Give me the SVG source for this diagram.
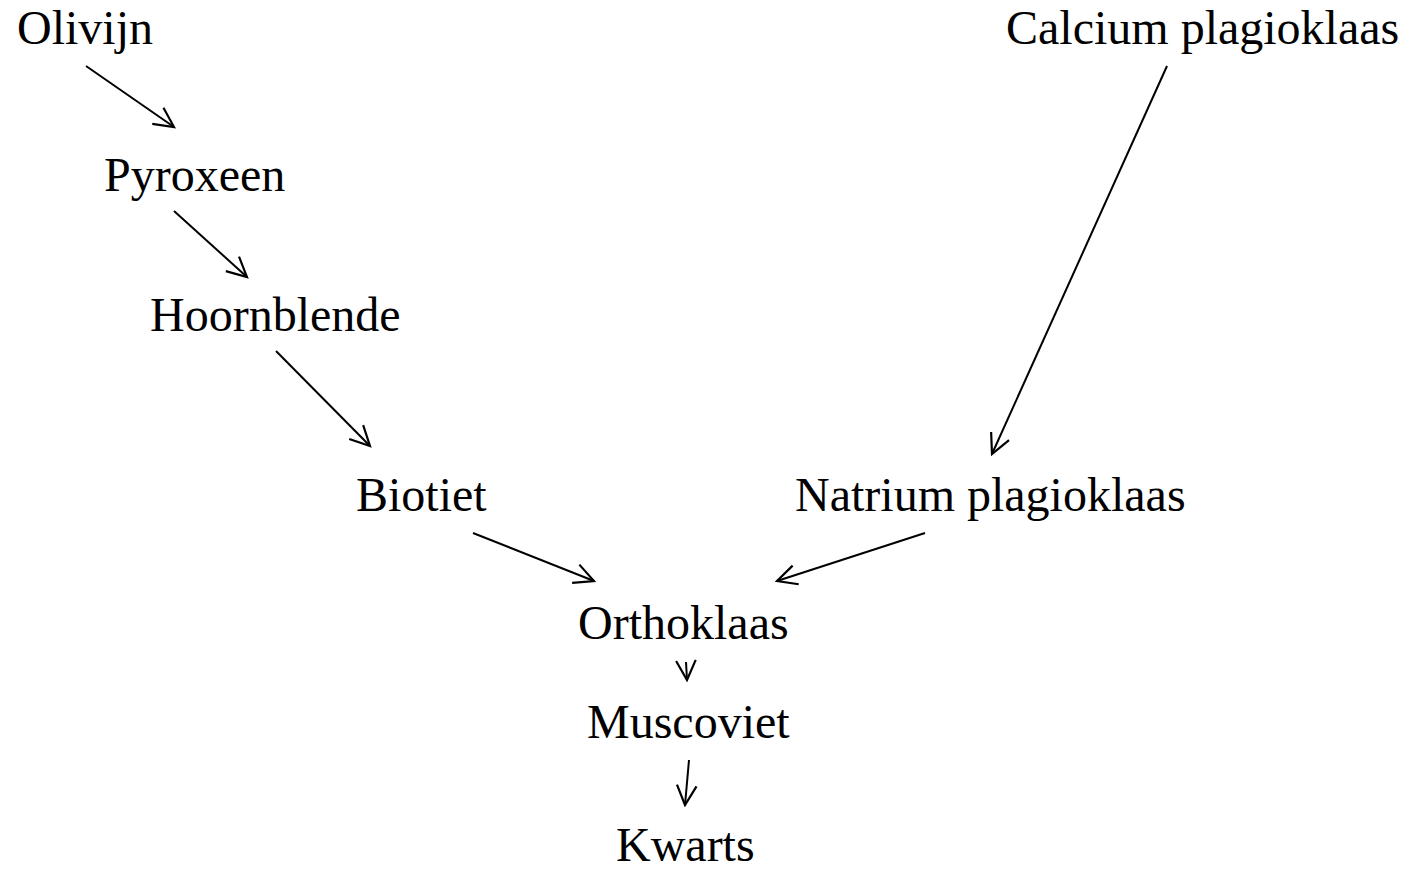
<svg xmlns="http://www.w3.org/2000/svg" width="1409" height="872" viewBox="0 0 1409 872">
<style>
text{font-family:"Liberation Serif","Times New Roman",serif;font-size:48px;fill:#000}
.c line{stroke:#000;stroke-width:2;fill:none;marker-end:url(#a)}
</style>
<defs>
<marker id="a" markerUnits="userSpaceOnUse" markerWidth="24" markerHeight="24" viewBox="-20 -10 22 20" refX="0" refY="0" orient="auto">
<path d="M-18,-9 L0,0 L-18,9" fill="none" stroke="#000" stroke-width="2"/>
</marker>
</defs>
<rect width="1409" height="872" fill="#fff"/>
<g id="olivijn"><text x="17" y="44">Olivijn</text></g>
<g id="calcium"><text x="1006" y="44">Calcium plagioklaas</text></g>
<g id="pyroxeen"><text x="104" y="191">Pyroxeen</text></g>
<g id="hoornblende"><text x="150" y="331">Hoornblende</text></g>
<g id="biotiet"><text x="356" y="511">Biotiet</text></g>
<g id="natrium"><text x="795" y="511">Natrium plagioklaas</text></g>
<g id="orthoklaas"><text x="578" y="639">Orthoklaas</text></g>
<g id="muscoviet"><text x="587" y="738">Muscoviet</text></g>
<g id="kwarts"><text x="616" y="861">Kwarts</text></g>
<g class="c" id="connectors">
<line x1="86" y1="66" x2="174" y2="127"/>
<line x1="174" y1="211" x2="247" y2="277"/>
<line x1="276" y1="351" x2="370" y2="446"/>
<line x1="1167" y1="66" x2="992" y2="454"/>
<line x1="473" y1="533" x2="594" y2="581"/>
<line x1="925" y1="533" x2="777" y2="581"/>
<line x1="686" y1="662" x2="687" y2="680"/>
<line x1="689" y1="760" x2="685" y2="805"/>
</g>
</svg>
